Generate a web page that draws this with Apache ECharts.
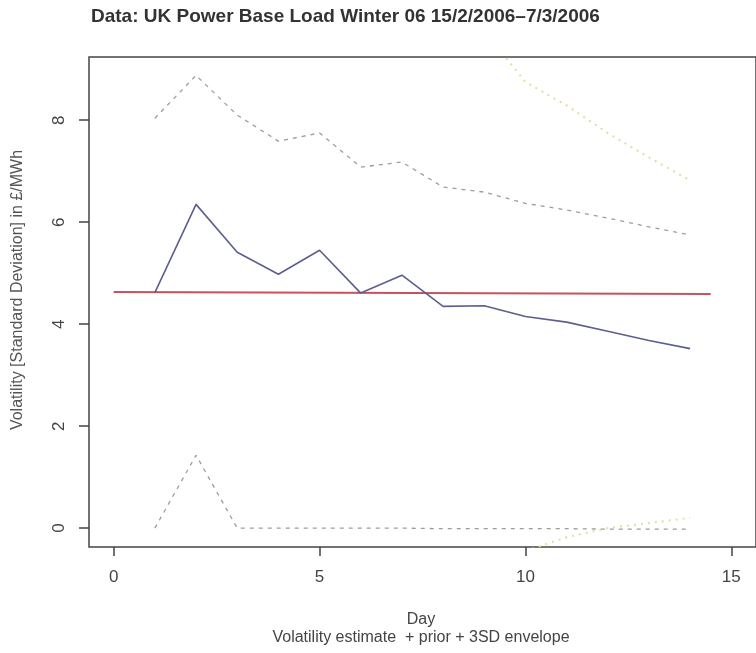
<!DOCTYPE html>
<html>
<head>
<meta charset="utf-8">
<script src="https://cdn.jsdelivr.net/npm/echarts@6/dist/echarts.min.js"></script>
<style>
html,body{margin:0;padding:0;background:#fff;}
#chart{width:756px;height:653px;}
</style>
</head>
<body>
<div id="chart"></div>
<script>
// ---- data ----
const days = [1, 2, 3, 4, 5, 6, 7, 8, 9, 10, 11, 12, 13, 14];
const estimate = [4.62, 6.35, 5.41, 4.98, 5.45, 4.61, 4.96, 4.35, 4.36, 4.15, 4.04, 3.86, 3.68, 3.52];
const upper3SD = [8.04, 8.88, 8.10, 7.59, 7.75, 7.08, 7.18, 6.69, 6.59, 6.37, 6.24, 6.08, 5.91, 5.75];
const lower3SD = [0.00, 1.43, 0.00, 0.00, 0.00, 0.00, 0.00, -0.01, -0.01, -0.01, -0.01, -0.02, -0.02, -0.02];
const priorDays = [0, 14.5];
const prior = [4.63, 4.59];
const altUpperDays = [9, 10, 11, 12, 13, 14];
const altUpper = [9.75, 8.75, 8.29, 7.75, 7.27, 6.82];
const altLowerDays = [10, 11, 12, 13, 14];
const altLower = [-0.45, -0.18, 0.00, 0.10, 0.20];
const xTicks = [0, 5, 10, 15];
const yTicks = [0, 2, 4, 6, 8];

const pairs = (xs, ys) => xs.map((x, i) => [x, ys[i]]);

const chart = echarts.init(document.getElementById('chart'), null, {renderer: 'canvas'});
const axisColor = '#444';
const textColor = '#444';
const font = 'Liberation Sans, Arial, Helvetica, sans-serif';

chart.setOption({
  animation: false,
  backgroundColor: '#fff',
  title: {
    text: 'Data: UK Power Base Load Winter 06 15/2/2006\u20137/3/2006',
    left: 91, top: 7, padding: 0,
    textStyle: {fontFamily: font, fontSize: 19, fontWeight: 'bold', color: '#333'}
  },
  grid: {
    left: 89, top: 57, width: 670, height: 490,
    show: true, borderColor: axisColor, borderWidth: 1.5, backgroundColor: 'transparent'
  },
  xAxis: {
    type: 'value', min: -0.6, max: 15.6,
    axisLine: {show: false, onZero: false},
    splitLine: {show: false},
    axisTick: {show: true, inside: false, length: 9, customValues: xTicks,
      lineStyle: {color: axisColor, width: 1.5}},
    axisLabel: {customValues: xTicks, margin: 22, fontSize: 17, color: textColor, fontFamily: font}
  },
  yAxis: {
    type: 'value', min: -0.37, max: 9.24,
    axisLine: {show: false, onZero: false},
    splitLine: {show: false},
    axisTick: {show: true, inside: false, length: 10, customValues: yTicks,
      lineStyle: {color: axisColor, width: 1.5}},
    axisLabel: {customValues: yTicks, rotate: 90, margin: 21, fontSize: 17, color: textColor, fontFamily: font}
  },
  graphic: [
    {type: 'text', x: 18, y: 290, rotation: Math.PI / 2,
      style: {text: 'Volatility [Standard Deviation] in \u00a3/MWh', fill: '#555', font: '16px ' + font,
        textAlign: 'center', textVerticalAlign: 'middle'}},
    {type: 'text', x: 421, y: 620,
      style: {text: 'Day', fill: '#444', font: '16px ' + font, textAlign: 'center', textVerticalAlign: 'middle'}},
    {type: 'text', x: 421, y: 638,
      style: {text: 'Volatility estimate  + prior + 3SD envelope', fill: '#444', font: '16px ' + font,
        textAlign: 'center', textVerticalAlign: 'middle'}}
  ],
  series: [
    {name: 'upper', type: 'line', data: pairs(days, upper3SD), showSymbol: false, clip: true,
      lineStyle: {color: '#9c9c9c', width: 1.3, type: [4, 5]}},
    {name: 'lower', type: 'line', data: pairs(days, lower3SD), showSymbol: false, clip: true,
      lineStyle: {color: '#9c9c9c', width: 1.3, type: [4, 5]}},
    {name: 'altUpper', type: 'line', data: pairs(altUpperDays, altUpper), showSymbol: false, clip: true,
      lineStyle: {color: '#e4dca0', width: 2, type: [2, 5]}},
    {name: 'altLower', type: 'line', data: pairs(altLowerDays, altLower), showSymbol: false, clip: true,
      lineStyle: {color: '#e4dca0', width: 2, type: [2, 5]}},
    {name: 'prior', type: 'line', data: pairs(priorDays, prior), showSymbol: false, clip: true,
      lineStyle: {color: '#c4525f', width: 2}},
    {name: 'estimate', type: 'line', data: pairs(days, estimate), showSymbol: false, clip: true,
      lineStyle: {color: '#5c5f8e', width: 1.6}}
  ]
});
</script>
</body>
</html>
